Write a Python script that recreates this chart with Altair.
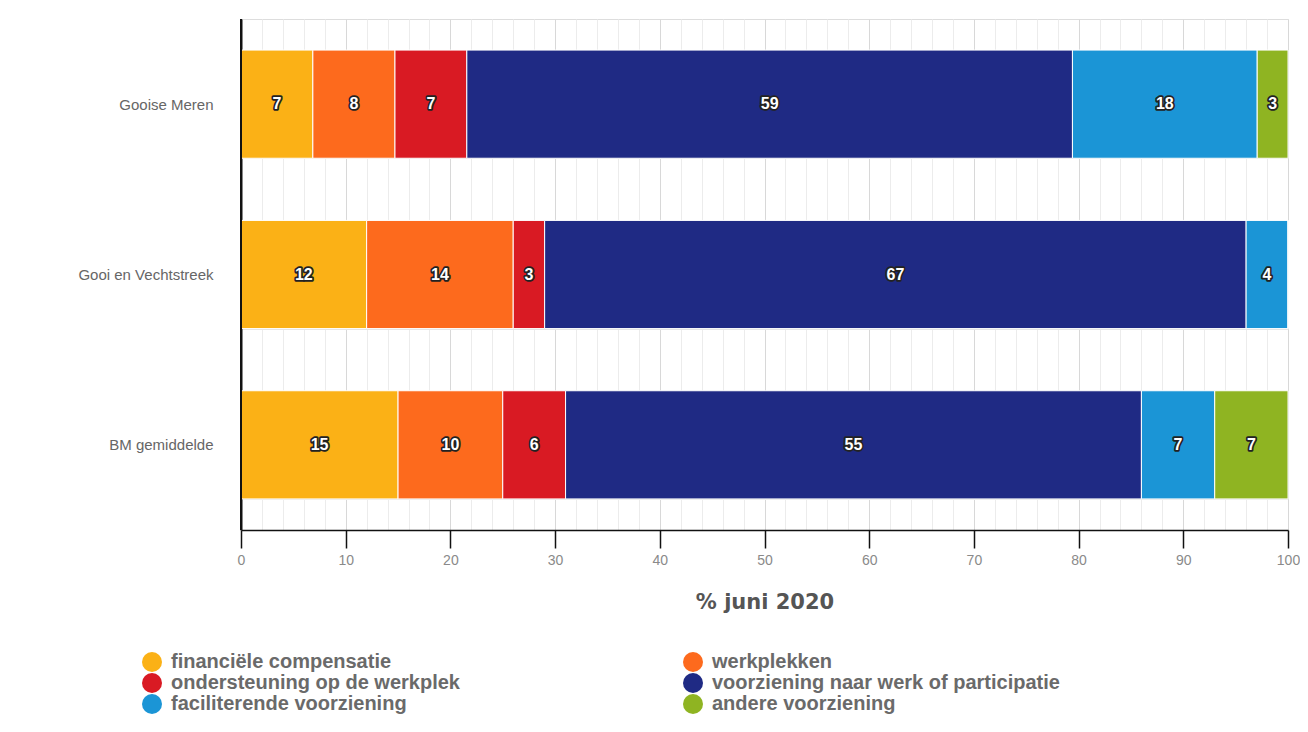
import altair as alt
import pandas as pd

categories = ["Gooise Meren", "Gooi en Vechtstreek", "BM gemiddelde"]
series = [
    "financiële compensatie",
    "werkplekken",
    "ondersteuning op de werkplek",
    "voorziening naar werk of participatie",
    "faciliterende voorziening",
    "andere voorziening",
]
colors = ["#fbb116", "#fd6a1d", "#d91a23", "#1f2a84", "#1b95d6", "#8fb422"]
values_gooise_meren = [7, 8, 7, 59, 18, 3]
values_gooi_vechtstreek = [12, 14, 3, 67, 4, 0]
values_bm_gemiddelde = [15, 10, 6, 55, 7, 7]
x_ticks = list(range(0, 101, 2))

rows = []
for cat, vals in zip(categories, [values_gooise_meren, values_gooi_vechtstreek, values_bm_gemiddelde]):
    for i, (s, v) in enumerate(zip(series, vals)):
        rows.append({"category": cat, "series": s, "order": i, "value": v})
df = pd.DataFrame(rows)

base = alt.Chart(df).transform_joinaggregate(
    total="sum(value)", groupby=["category"]
).transform_calculate(
    pct="datum.value / datum.total * 100"
).transform_stack(
    stack="pct", groupby=["category"], as_=["x0", "x1"],
    sort=[alt.SortField("order", order="ascending")]
).transform_calculate(
    mid="(datum.x0 + datum.x1) / 2"
)

y_enc = alt.Y(
    "category:N",
    sort=categories,
    scale=alt.Scale(paddingInner=0.365, paddingOuter=0.1825),
    axis=alt.Axis(
        title=None, ticks=False, labelPadding=28, labelFontSize=15,
        labelFont="Liberation Sans", labelColor="#666666",
        domainColor="#111111", domainWidth=2, grid=True, tickBand="extent",
        gridColor="#e4e4e4", gridWidth=1,
    ),
)

x_axis = alt.Axis(
    values=x_ticks,
    tickCount=len(x_ticks),
    labelExpr="datum.value % 10 === 0 ? datum.label : ''",
    labelOverlap=False,
    labelFlush=False,
    labelFontSize=14, labelFont="Liberation Sans", labelColor="#8a8a8a",
    labelPadding=5,
    tickSize=18, tickColor="#111111", tickWidth=1.5,
    tickOpacity=alt.ExprRef("datum.value % 10 === 0 ? 1 : 0"),
    domainColor="#111111", domainWidth=1.5,
    grid=True,
    gridColor=alt.ExprRef("datum.value % 10 === 0 ? '#d8d8d8' : '#ececec'"),
    title="% juni 2020", titleFont="DejaVu Sans", titleFontSize=21,
    titleFontWeight="bold", titleColor="#555555", titlePadding=24,
)

bars = base.mark_bar(stroke="white", strokeWidth=1).encode(
    x=alt.X("x0:Q", scale=alt.Scale(domain=[0, 100], nice=False), axis=x_axis),
    x2="x1:Q",
    y=y_enc,
    color=alt.Color(
        "series:N",
        scale=alt.Scale(domain=series, range=colors),
        legend=alt.Legend(
            title=None, orient="none", legendX=-99, legendY=633,
            direction="horizontal",
            columns=2, columnPadding=223, rowPadding=1,
            symbolType="circle", symbolSize=400, symbolStrokeWidth=0,
            labelFont="Liberation Sans", labelFontWeight="bold",
            labelFontSize=20, labelColor="#6a6a6a", labelOffset=9,
            labelLimit=500,
        ),
    ),
)

axis_line = alt.Chart(pd.DataFrame({"x": [0]})).mark_rule(
    color="#111111", strokeWidth=2
).encode(x="x:Q", y=alt.value(0), y2=alt.value(511))

label_base = base.transform_filter("datum.value > 0")
halo = label_base.mark_text(
    font="Liberation Sans", fontWeight="bold", fontSize=16,
    fill="#222222", stroke="#222222", strokeWidth=3.5, strokeJoin="round",
).encode(x="mid:Q", y=alt.Y("category:N", sort=categories), text="value:Q")
labels = label_base.mark_text(
    font="Liberation Sans", fontWeight="bold", fontSize=16, fill="white",
).encode(x="mid:Q", y=alt.Y("category:N", sort=categories), text="value:Q")

chart = alt.layer(bars, axis_line, halo, labels).properties(
    width=1047, height=511,
    padding={"left": 233, "top": 11, "right": 12, "bottom": 194},
    autosize=alt.AutoSizeParams(type="none"),
).configure_view(stroke=None).configure(background="white")

chart.save("out.html", embed_options={"renderer": "svg", "actions": False})
